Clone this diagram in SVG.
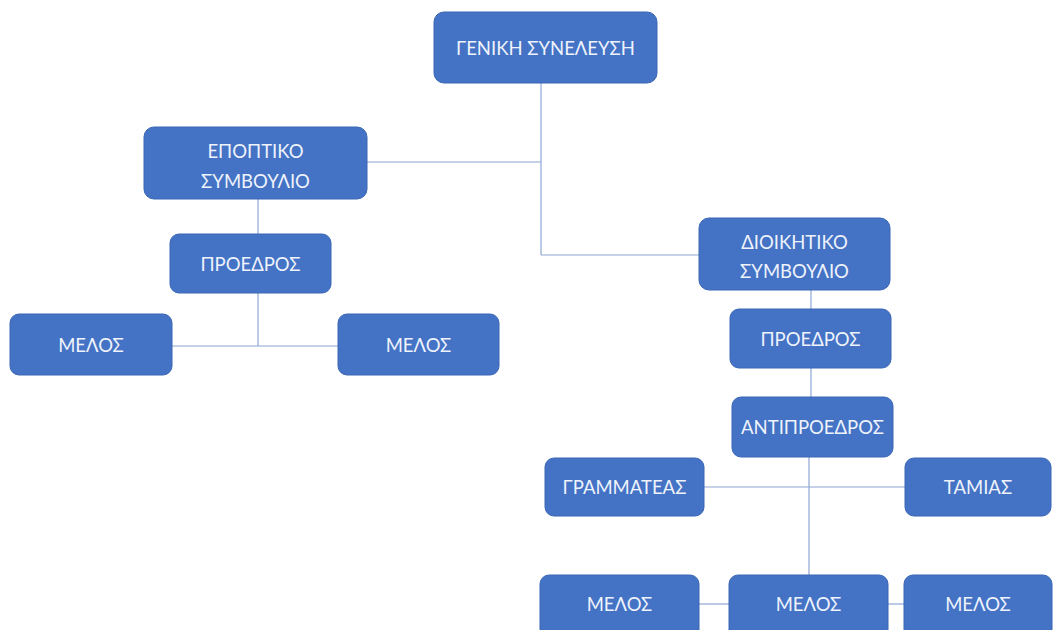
<svg xmlns="http://www.w3.org/2000/svg" width="1056" height="630" viewBox="0 0 1056 630">
<style>
.b{fill:#4472C4;stroke:#3A66B5;stroke-width:1}
.t{font-family:Lato,"Open Sans","Noto Sans",sans-serif;font-size:18.5px;fill:#EEF3FC;text-anchor:middle;dominant-baseline:central}
.c line{stroke:#8EA6D3;stroke-width:1.2;fill:none}
</style>
<rect width="1056" height="630" fill="#FFFFFF"/>
<g class="c" id="connectors">
<line x1="541" y1="83" x2="541" y2="255"/>
<line x1="367" y1="162" x2="541" y2="162"/>
<line x1="541" y1="255" x2="699" y2="255"/>
<line x1="258" y1="199" x2="258" y2="234"/>
<line x1="258" y1="293" x2="258" y2="346"/>
<line x1="172" y1="346" x2="338" y2="346"/>
<line x1="811" y1="290" x2="811" y2="309"/>
<line x1="811" y1="368" x2="811" y2="397"/>
<line x1="809" y1="457" x2="809" y2="575"/>
<line x1="704" y1="487" x2="905" y2="487"/>
<line x1="699" y1="604" x2="729" y2="604"/>
<line x1="888" y1="604" x2="904" y2="604"/>
</g>
<g id="geniki"><rect class="b" x="434" y="12" width="223" height="71" rx="10"/><text class="t" x="545.5" y="47.5">ΓΕΝΙΚΗ ΣΥΝΕΛΕΥΣΗ</text></g>
<g id="epoptiko"><rect class="b" x="144" y="127" width="223" height="72" rx="10"/><text class="t" x="255.5" y="151">ΕΠΟΠΤΙΚΟ</text><text class="t" x="255.5" y="181">ΣΥΜΒΟΥΛΙΟ</text></g>
<g id="proedros1"><rect class="b" x="170" y="234" width="161" height="59" rx="9"/><text class="t" x="250.5" y="263.5">ΠΡΟΕΔΡΟΣ</text></g>
<g id="melos1"><rect class="b" x="10" y="314" width="162" height="61" rx="9"/><text class="t" x="91" y="344.5">ΜΕΛΟΣ</text></g>
<g id="melos2"><rect class="b" x="338" y="314" width="161" height="61" rx="9"/><text class="t" x="418.5" y="344.5">ΜΕΛΟΣ</text></g>
<g id="dioikitiko"><rect class="b" x="699" y="218" width="191" height="72" rx="10"/><text class="t" x="794.5" y="242">ΔΙΟΙΚΗΤΙΚΟ</text><text class="t" x="794.5" y="271">ΣΥΜΒΟΥΛΙΟ</text></g>
<g id="proedros2"><rect class="b" x="730" y="309" width="161" height="59" rx="9"/><text class="t" x="810.5" y="338.5">ΠΡΟΕΔΡΟΣ</text></g>
<g id="antiproedros"><rect class="b" x="732" y="397" width="161" height="60" rx="9"/><text class="t" x="812.5" y="427">ΑΝΤΙΠΡΟΕΔΡΟΣ</text></g>
<g id="grammateas"><rect class="b" x="545" y="458" width="159" height="58" rx="9"/><text class="t" x="624.5" y="487">ΓΡΑΜΜΑΤΕΑΣ</text></g>
<g id="tamias"><rect class="b" x="905" y="458" width="146" height="58" rx="9"/><text class="t" x="978" y="487">ΤΑΜΙΑΣ</text></g>
<g id="melos3"><rect class="b" x="540" y="575" width="159" height="70" rx="9"/><text class="t" x="619.5" y="604">ΜΕΛΟΣ</text></g>
<g id="melos4"><rect class="b" x="729" y="575" width="159" height="70" rx="9"/><text class="t" x="808.5" y="604">ΜΕΛΟΣ</text></g>
<g id="melos5"><rect class="b" x="904" y="575" width="148" height="70" rx="9"/><text class="t" x="978" y="604">ΜΕΛΟΣ</text></g>
</svg>
